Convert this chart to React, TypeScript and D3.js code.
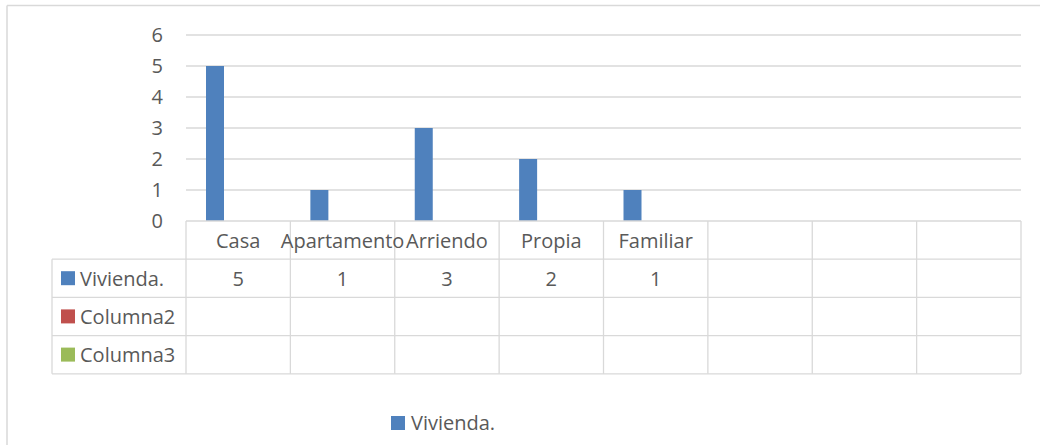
import React from "react";
import * as d3 from "d3";

const categories = ["Casa", "Apartamento", "Arriendo", "Propia", "Familiar", "", "", ""];
const vivienda: (number | null)[] = [5, 1, 3, 2, 1, null, null, null];
const columna2: (number | null)[] = [null, null, null, null, null, null, null, null];
const columna3: (number | null)[] = [null, null, null, null, null, null, null, null];
const yTicks = [0, 1, 2, 3, 4, 5, 6];

const seriesList = [
  { name: "Vivienda.", values: vivienda, color: "#4f81bd" },
  { name: "Columna2", values: columna2, color: "#c0504d" },
  { name: "Columna3", values: columna3, color: "#9bbb59" },
];

const W = 1040;
const H = 445;
const plotLeft = 186;
const plotRight = 1021;
const plotTop = 35;
const plotBottom = 221;
const tableLeft = 52;
const rowH = 38.2;
const FONT = "'Open Sans', sans-serif";
const FS = 20;
const TEXT = "#595959";
const GRID = "#d9d9d9";

export default function App() {
  const x = d3.scaleBand<number>().domain(d3.range(categories.length)).range([plotLeft, plotRight]);
  const y = d3.scaleLinear().domain([0, 6]).range([plotBottom, plotTop]);
  const bw = x.bandwidth();
  const barW = 18;
  const barOff = 20;
  const rowsTop = plotBottom + rowH;
  const tableBottom = rowsTop + seriesList.length * rowH;

  return (
    <svg width={W} height={H} style={{ position: "absolute", left: 0, top: 0, background: "#fff" }} fontFamily={FONT}>
      <rect x={0} y={0} width={W} height={H} fill="#fff" />
      <line x1={7} x2={W} y1={5.5} y2={5.5} stroke={GRID} strokeWidth={1.5} />
      <line x1={7} x2={7} y1={5.5} y2={H} stroke={GRID} strokeWidth={1.5} />

      {yTicks.filter((t) => t > 0).map((t) => (
        <line key={t} x1={plotLeft} x2={plotRight} y1={y(t)} y2={y(t)} stroke={GRID} strokeWidth={1.3} />
      ))}
      {yTicks.map((t) => (
        <text key={t} x={163} y={y(t)} dy="0.36em" textAnchor="end" fontSize={FS} fill={TEXT}>
          {t}
        </text>
      ))}

      {vivienda.map((v, i) =>
        v == null ? null : (
          <rect key={i} x={(x(i) as number) + barOff} y={y(v)} width={barW} height={y(0) - y(v)} fill="#4f81bd" />
        )
      )}

      <line x1={plotLeft} x2={plotRight} y1={plotBottom} y2={plotBottom} stroke={GRID} strokeWidth={1.3} />
      {seriesList.map((s, r) => (
        <line key={"h" + r} x1={tableLeft} x2={plotRight} y1={rowsTop + r * rowH} y2={rowsTop + r * rowH} stroke={GRID} strokeWidth={1.3} />
      ))}
      <line x1={tableLeft} x2={plotRight} y1={tableBottom} y2={tableBottom} stroke={GRID} strokeWidth={1.3} />
      <line x1={tableLeft} x2={tableLeft} y1={rowsTop} y2={tableBottom} stroke={GRID} strokeWidth={1.3} />
      {d3.range(categories.length + 1).map((i) => {
        const xv = i < categories.length ? (x(i) as number) : plotRight;
        return <line key={"v" + i} x1={xv} x2={xv} y1={plotBottom} y2={tableBottom} stroke={GRID} strokeWidth={1.3} />;
      })}

      {categories.map((c, i) => (
        <text key={"c" + i} x={(x(i) as number) + bw / 2} y={248} textAnchor="middle" fontSize={FS} fill={TEXT}>
          {c}
        </text>
      ))}

      {seriesList.map((s, r) => {
        const top = rowsTop + r * rowH;
        return (
          <g key={"s" + r}>
            <rect x={61} y={top + 12} width={14} height={14} fill={s.color} />
            <text x={80} y={top + rowH / 2} dy="0.36em" fontSize={FS} fill={TEXT}>
              {s.name}
            </text>
            {s.values.map((v, i) =>
              v == null ? null : (
                <text key={i} x={(x(i) as number) + bw / 2} y={top + rowH / 2} dy="0.36em" textAnchor="middle" fontSize={FS} fill={TEXT}>
                  {v}
                </text>
              )
            )}
          </g>
        );
      })}

      <rect x={391} y={416} width={14} height={14} fill="#4f81bd" />
      <text x={411} y={423} dy="0.36em" fontSize={FS} fill={TEXT}>
        Vivienda.
      </text>
    </svg>
  );
}
